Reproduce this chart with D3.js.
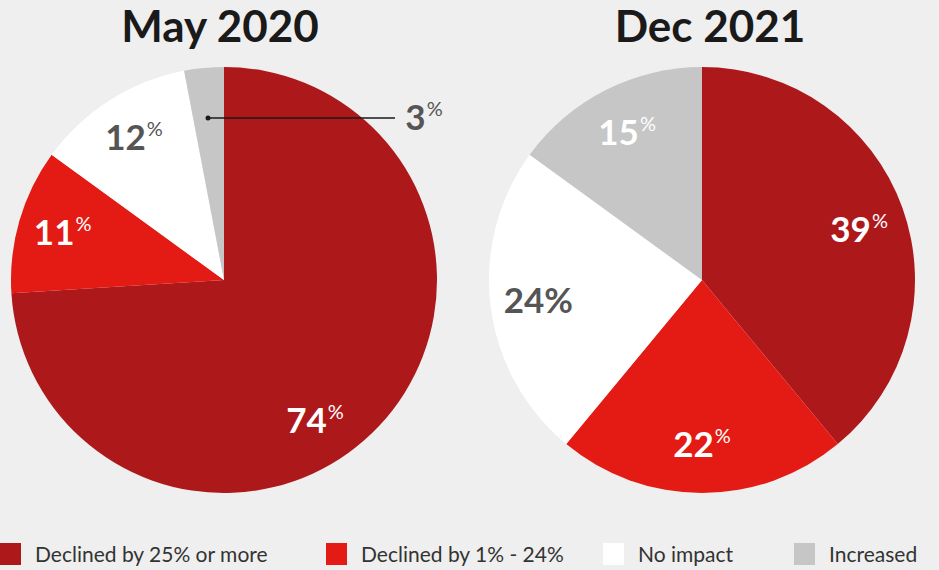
<!DOCTYPE html>
<html>
<head>
<meta charset="utf-8">
<script src="https://cdn.jsdelivr.net/npm/d3@7"></script>
<style>
  body { margin: 0; background: #efefef; }
  svg { display: block; font-family: Lato, "Open Sans", sans-serif; }
</style>
</head>
<body>
<svg width="939" height="570"></svg>
<script>
// data
const categories = ["Declined by 25% or more", "Declined by 1% - 24%", "No impact", "Increased"];
const periods = ["May 2020", "Dec 2021"];
const may2020 = [74, 11, 12, 3];
const dec2021 = [39, 22, 24, 15];

const colors = ["#ad181b", "#e31b14", "#ffffff", "#c6c6c6"];
const labelColors = ["#ffffff", "#ffffff", "#555555", "#ffffff"];

const svg = d3.select("svg");
const radius = 213;

const pie = d3.pie().sort(null).value(d => d);
const arc = d3.arc().innerRadius(0).outerRadius(radius);

// one pie per period
const charts = [
  { title: periods[0], values: may2020, cx: 224, tx: 220, // small label for 3% is pulled outside
    labelR: 168, angleShift: [14, 0, 0, 0], outside: [false, false, false, true], bigPct: [false, false, false, false] },
  { title: periods[1], values: dec2021, cx: 702, tx: 710,
    labelR: 165, angleShift: [2, 0, 0, 0], outside: [false, false, false, false], bigPct: [false, false, true, false] }
];

charts.forEach(c => {
  const g = svg.append("g").attr("transform", `translate(${c.cx},280)`);

  const arcs = pie(c.values);
  g.selectAll("path")
    .data(arcs)
    .enter()
    .append("path")
    .attr("d", arc)
    .attr("fill", (d, i) => colors[i]);

  arcs.forEach((d, i) => {
    const mid = (d.startAngle + d.endAngle) / 2 + c.angleShift[i] * Math.PI / 180;
    let x = Math.sin(mid) * c.labelR, y = -Math.cos(mid) * c.labelR;
    let fill = labelColors[i];

    if (c.outside[i]) {
      // leader line from inside the thin slice out to the right
      const ly = -162;
      const lx0 = -16;
      g.append("line")
        .attr("x1", lx0).attr("y1", ly)
        .attr("x2", 171).attr("y2", ly)
        .attr("stroke", "#1a1a1a").attr("stroke-width", 1.5);
      g.append("circle").attr("cx", lx0).attr("cy", ly).attr("r", 2.5).attr("fill", "#1a1a1a");
      x = 200; y = -162;
      fill = "#555555";
    }

    const t = g.append("text")
      .attr("x", x)
      .attr("y", y + 12)
      .attr("text-anchor", "middle")
      .attr("fill", fill)
      .style("font-weight", 700)
      .style("font-size", "35px");
    t.append("tspan").text(d.data);
    if (c.bigPct[i]) {
      t.append("tspan").text("%");
    } else {
      t.append("tspan")
        .attr("dy", -14)
        .attr("dx", 1)
        .style("font-size", "20px")
        .style("font-weight", 400)
        .text("%");
    }
  });

  svg.append("text")
    .attr("x", c.tx)
    .attr("y", 42)
    .attr("text-anchor", "middle")
    .attr("fill", "#1a1a1a")
    .style("font-size", "44px")
    .style("font-weight", 700)
    .text(c.title);
});

// legend
const legendX = d3.scaleOrdinal().domain(categories).range([0, 326, 603, 794]);
const lg = svg.append("g").attr("class", "legend");
lg.selectAll("rect")
  .data(categories)
  .enter()
  .append("rect")
  .attr("x", d => legendX(d))
  .attr("y", 543)
  .attr("width", 21)
  .attr("height", 22)
  .attr("fill", (d, i) => colors[i]);
lg.selectAll("text")
  .data(categories)
  .enter()
  .append("text")
  .attr("x", d => legendX(d) + 35)
  .attr("y", 562)
  .attr("fill", "#333333")
  .style("font-size", "21px")
  .text(d => d);
</script>
</body>
</html>
